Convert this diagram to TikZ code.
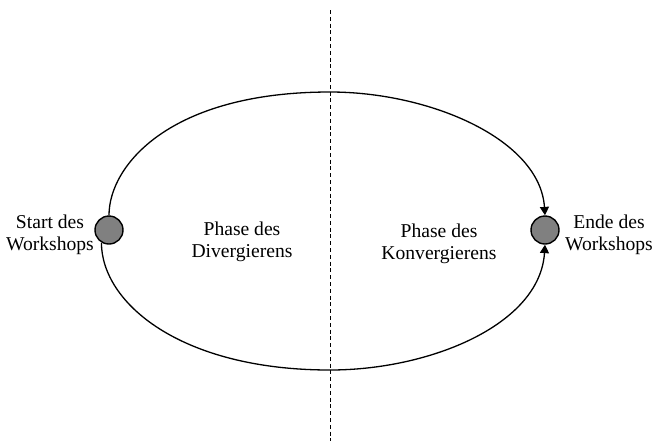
\documentclass[tikz,border=0pt]{standalone}
\usepackage{fontspec}
\setmainfont{Liberation Serif}
\usetikzlibrary{arrows.meta,calc}
\begin{document}
\begin{tikzpicture}[x=0.5pt,y=-0.5pt,
  dot/.style={circle,draw=black,line width=0.7pt,fill=black!50,minimum size=14pt,inner sep=0pt},
  lbl/.style={align=center,font=\fontsize{9.8}{11}\selectfont,anchor=base,inner sep=0pt},
  flow/.style={line width=0.65pt,-{Triangle[length=4.2pt,width=4.5pt]}},
  divider/.style={line width=0.5pt,dash pattern=on 2pt off 1.4pt}]
\useasboundingbox (0,0) rectangle (654,441);
\node[dot] (L) at (109,230) {};
\node[dot] (R) at (545,230) {};
\coordinate (T) at (330,92);
\coordinate (B) at (330,370);
\coordinate (D1) at (330,10);
\coordinate (D2) at (330,441);
\draw[divider] (D1) -- (D2);
\draw[flow] (L.north) .. controls ($(L.north)+(0,-50)$) and ($(T)+(-160,0)$) .. (T)
  .. controls ($(T)+(100,0)$) and ($(R.north)+(-5,-76)$) .. (R.north);
\draw[flow] (L.239) .. controls ($(L.239)+(0,60)$) and ($(B)+(-150,0)$) .. (B)
  .. controls ($(B)+(100,0)$) and ($(R.south)+(-5,80)$) .. (R.south);
\node[lbl] (ls) at (50,250) {Start des\\Workshops};
\node[lbl] (re) at (609,250) {Ende des\\Workshops};
\node[lbl] (pd) at (242,257) {Phase des\\Divergierens};
\node[lbl] (pk) at (439,259) {Phase des\\Konvergierens};
\end{tikzpicture}
\end{document}
